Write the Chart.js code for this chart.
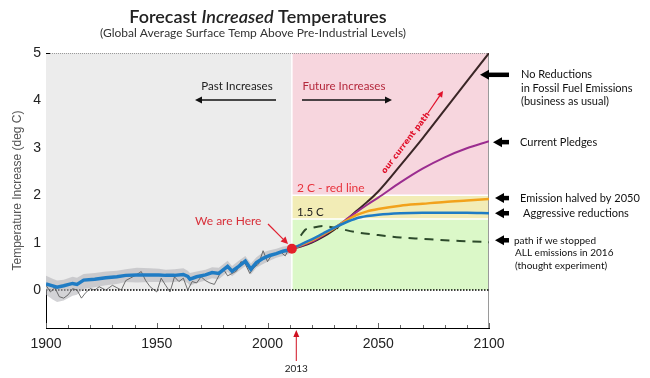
<!DOCTYPE html>
<html><head><meta charset="utf-8">
<script src="https://cdn.jsdelivr.net/npm/chart.js@4.4.0/dist/chart.umd.min.js"></script>
<style>html,body{margin:0;padding:0;background:#fff;}canvas{display:block;}</style>
</head><body>
<canvas id="c" width="650" height="378"></canvas>
<script>
// ---------- data ----------
const histYears = [1900,1903,1905,1908,1912,1914,1917,1922,1927,1932,1936,1941,1947,1951,1954,1958,1962,1964,1965,1968,1972,1975,1978,1982,1984,1987,1990,1992.5,1995,1998,2001,2004,2007,2009,2011];
const histSmooth = [0.13,0.09,0.06,0.09,0.14,0.12,0.21,0.23,0.26,0.28,0.31,0.32,0.32,0.32,0.31,0.31,0.33,0.29,0.23,0.28,0.32,0.37,0.35,0.50,0.40,0.50,0.61,0.44,0.58,0.67,0.73,0.77,0.82,0.84,0.87];
const histHigh = [0.30,0.24,0.20,0.22,0.28,0.26,0.34,0.36,0.39,0.41,0.44,0.47,0.46,0.45,0.43,0.44,0.46,0.41,0.36,0.39,0.43,0.48,0.47,0.62,0.51,0.62,0.72,0.56,0.69,0.80,0.84,0.87,0.92,0.93,0.95];
const histLow = [-0.10,-0.20,-0.25,-0.22,-0.12,-0.10,0.02,0.06,0.10,0.13,0.17,0.16,0.17,0.17,0.16,0.17,0.19,0.15,0.09,0.15,0.20,0.25,0.23,0.38,0.29,0.40,0.50,0.33,0.47,0.55,0.62,0.68,0.72,0.75,0.79];
const annualYears = [1900,1902,1904,1906,1908,1910,1912,1914,1916,1918,1920,1922,1924,1927,1930,1932,1934,1936,1938,1940,1943,1945,1947,1950,1952,1954,1956,1958,1960,1962,1964,1966,1968,1970,1972,1974,1976,1978,1980,1982,1984,1986,1988,1990,1992,1994,1996,1998,2000,2002,2004,2006,2008,2010];
const annualTemps = [0.10,-0.04,0.05,-0.14,-0.17,-0.10,0.03,0.00,-0.17,-0.05,0.03,0.00,0.07,0.00,0.10,0.05,0.00,0.20,0.25,0.30,0.39,0.20,0.07,-0.04,0.25,0.10,-0.04,0.28,0.18,0.25,0.00,0.18,0.15,0.28,0.20,0.15,0.12,0.30,0.45,0.30,0.35,0.40,0.60,0.55,0.35,0.48,0.55,0.83,0.60,0.75,0.78,0.80,0.72,0.90];

const futureYears = [2011,2015,2020,2025,2030,2035,2040,2045,2050,2060,2070,2080,2090,2100];
const noReductions = [0.87,0.92,1.00,1.12,1.27,1.45,1.66,1.86,2.08,2.63,3.20,3.80,4.40,5.00];
const currentPledges = [0.87,0.93,1.02,1.15,1.30,1.47,1.64,1.80,1.95,2.27,2.56,2.80,2.99,3.14];
const halvedBy2050 = [0.87,0.95,1.05,1.17,1.30,1.45,1.58,1.66,1.71,1.78,1.82,1.86,1.89,1.92];
const aggressive = [0.87,0.96,1.07,1.19,1.31,1.42,1.51,1.56,1.59,1.62,1.63,1.63,1.63,1.62];
const stoppedYears = [2015,2017,2020,2025,2030,2040,2050,2060,2070,2080,2090,2100];
const stoppedAll = [1.15,1.27,1.31,1.35,1.32,1.22,1.16,1.11,1.08,1.05,1.03,1.01];

const nowYear = 2011, nowTemp = 0.87;
const xLabelYears = [1900,1950,2000,2050,2100];
const xMinorYears = [1900,1910,1920,1930,1940,1950,1960,1970,1980,1990,2000,2010,2020,2030,2040,2050,2060,2070,2080,2090,2100];
const yTickVals = [0,1,2,3,4,5];
// zones: [x0, x1, y0, y1]
const zoneX0 = [1900, 2011, 2011, 2011];
const zoneX1 = [2011, 2100, 2100, 2100];
const zoneY0 = [0, 2, 1.5, 0];
const zoneY1 = [5, 5, 2, 1.5];
const zoneColors = ['#ececec', '#f7d6de', '#f2ecb6', '#dbf8c8'];
// right-hand labels: value the arrow points at
const rightArrowVals = [4.54, 3.12, 1.94, 1.62, 1.05];

const pts = (xs, ys) => xs.map((v, i) => ({x: v, y: ys[i]}));

function arrow(ctx, x1, y1, x2, y2, head, hw, lw, color) {
  const a = Math.atan2(y2 - y1, x2 - x1);
  ctx.strokeStyle = color; ctx.fillStyle = color; ctx.lineWidth = lw;
  const bx = x2 - head * Math.cos(a), by = y2 - head * Math.sin(a);
  ctx.beginPath(); ctx.moveTo(x1, y1); ctx.lineTo(bx, by); ctx.stroke();
  ctx.beginPath(); ctx.moveTo(x2, y2);
  ctx.lineTo(bx + hw * Math.sin(a), by - hw * Math.cos(a));
  ctx.lineTo(bx - hw * Math.sin(a), by + hw * Math.cos(a));
  ctx.closePath(); ctx.fill();
}
function txt(ctx, s, x, y, font, color, align) {
  ctx.font = font; ctx.fillStyle = color; ctx.textAlign = align || 'left'; ctx.textBaseline = 'middle';
  ctx.fillText(s, x, y);
}
function seg(ctx, x1, y1, x2, y2) { ctx.beginPath(); ctx.moveTo(x1, y1); ctx.lineTo(x2, y2); ctx.stroke(); }

const deco = {
  id: 'deco',
  beforeDatasetsDraw(chart) {
    const {ctx, scales: {x, y}} = chart;
    ctx.save();
    for (let i = 0; i < zoneX0.length; i++) {
      const l = x.getPixelForValue(zoneX0[i]), r = x.getPixelForValue(zoneX1[i]);
      const t = y.getPixelForValue(zoneY1[i]), b = y.getPixelForValue(zoneY0[i]);
      ctx.fillStyle = zoneColors[i]; ctx.fillRect(l, t, r - l, b - t);
    }
    ctx.strokeStyle = '#ffffff'; ctx.lineWidth = 1.5;
    const xs = x.getPixelForValue(nowYear);
    seg(ctx, xs, y.getPixelForValue(0), xs, y.getPixelForValue(5));
    seg(ctx, xs, y.getPixelForValue(2), x.right, y.getPixelForValue(2));
    seg(ctx, xs, y.getPixelForValue(1.5), x.right, y.getPixelForValue(1.5));
    ctx.lineWidth = 1; ctx.strokeStyle = '#9a9a9a';
    ctx.setLineDash([1, 1]); seg(ctx, x.left, y.top + 0.5, x.right, y.top + 0.5);
    ctx.setLineDash([]); seg(ctx, x.right - 0.5, y.top, x.right - 0.5, y.bottom);
    ctx.strokeStyle = '#666';
    for (const yr of xMinorYears) {
      const px = Math.round(x.getPixelForValue(yr)) + 0.5;
      const len = (yr % 50 === 0) ? 5 : 3;
      seg(ctx, px, y.bottom, px, y.bottom - len);
    }
    ctx.strokeStyle = '#000';
    seg(ctx, x.left, y.top + 0.5, x.left + 4, y.top + 0.5);
    ctx.restore();
  },
  afterDraw(chart) {
    const {ctx, scales: {x, y}} = chart;
    ctx.save();
    // title
    const f1 = '600 18px Lato', f2 = 'italic 600 18px Lato';
    ctx.font = f1; const w1 = ctx.measureText('Forecast ').width, w3 = ctx.measureText(' Temperatures').width;
    ctx.font = f2; const w2 = ctx.measureText('Increased').width;
    let tx = 258 - (w1 + w2 + w3) / 2;
    txt(ctx, 'Forecast ', tx, 17, f1, '#222'); tx += w1;
    txt(ctx, 'Increased', tx, 17, f2, '#222'); tx += w2;
    txt(ctx, ' Temperatures', tx, 17, f1, '#222');
    txt(ctx, '(Global Average Surface Temp Above Pre-Industrial Levels)', 253, 33, '12px Lato', '#333', 'center');
    // region captions
    txt(ctx, 'Past Increases', 237, 86, '11.5px Lato', '#222', 'center');
    arrow(ctx, 276, 100, 195, 100, 7, 3.5, 1.3, '#111');
    txt(ctx, 'Future Increases', 344, 86, '11.5px Lato', '#b4283c', 'center');
    arrow(ctx, 302, 100, 392, 100, 7, 3.5, 1.3, '#111');
    txt(ctx, '2 C - red line', 297, 188, '12px Lato', '#e8323c');
    txt(ctx, '1.5 C', 297, 212, '11.5px Lato', '#222');
    txt(ctx, 'We are Here', 195, 221, '12px Lato', '#d8303a');
    arrow(ctx, 268, 224, 288, 244, 7, 3.5, 1.2, '#e02030');
    // our current path
    ctx.save(); ctx.translate(406, 143); ctx.rotate(-0.92);
    txt(ctx, 'our current path', 0, 0, 'bold 8px "DejaVu Sans"', '#e0102a', 'center');
    ctx.restore();
    arrow(ctx, 428, 113, 443, 91, 6, 3, 1.2, '#e0102a');
    // right arrows and labels
    const tipX = [x.right - 9, x.right + 4, x.right + 6, x.right + 6, x.right + 6];
    for (let i = 0; i < rightArrowVals.length; i++) {
      const py = y.getPixelForValue(rightArrowVals[i]);
      arrow(ctx, x.right + 20, py, tipX[i], py, 9, 5, 4.5, '#000');
    }
    const rf = '11px Lato';
    txt(ctx, 'No Reductions', 521, 74, rf, '#111');
    txt(ctx, 'in Fossil Fuel Emissions', 521, 88, rf, '#111');
    txt(ctx, '(business as usual)', 521, 101, rf, '#111');
    txt(ctx, 'Current Pledges', 520, 142, rf, '#111');
    txt(ctx, 'Emission halved by 2050', 520, 198, rf, '#111');
    txt(ctx, 'Aggressive reductions', 523, 213, rf, '#111');
    const sf = '10px Lato';
    txt(ctx, 'path if we stopped', 514, 241, sf, '#111');
    txt(ctx, 'ALL emissions in 2016', 515, 253, sf, '#111');
    txt(ctx, '(thought experiment)', 515, 266, sf, '#111');
    // 2013 marker
    const x13 = x.getPixelForValue(2013);
    arrow(ctx, x13, 361, x13, 330, 7, 3, 1, '#d01020');
    txt(ctx, '2013', x13, 369, '10px Lato', '#222', 'center');
    ctx.restore();
  }
};

const ds = [
  {data: [{x: nowYear, y: nowTemp}], showLine: false, pointRadius: 5, pointBackgroundColor: '#e3202a', pointBorderWidth: 0, order: 0},
  {data: pts(histYears, histSmooth), borderColor: '#1f7cc4', borderWidth: 3.5, tension: 0, order: 1},
  {data: pts(futureYears, aggressive), borderColor: '#1f7cc4', borderWidth: 2.5, cubicInterpolationMode: 'monotone', order: 2},
  {data: pts(futureYears, halvedBy2050), borderColor: '#f2a21c', borderWidth: 2.5, cubicInterpolationMode: 'monotone', order: 3},
  {data: pts(futureYears, currentPledges), borderColor: '#9b2d8f', borderWidth: 2, cubicInterpolationMode: 'monotone', order: 4},
  {data: pts(futureYears, noReductions), borderColor: '#3a2626', borderWidth: 2, cubicInterpolationMode: 'monotone', order: 5},
  {data: pts(stoppedYears, stoppedAll), borderColor: '#2d4a2b', borderWidth: 2, borderDash: [9, 7], cubicInterpolationMode: 'monotone', order: 6},
  {data: pts(annualYears, annualTemps), borderColor: 'rgba(70,70,70,0.75)', borderWidth: 1, tension: 0, order: 7},
  {data: pts(histYears, histHigh), borderColor: 'rgba(0,0,0,0)', borderWidth: 0, fill: false, order: 9},
  {data: pts(histYears, histLow), borderColor: 'rgba(0,0,0,0)', borderWidth: 0, fill: '-1', backgroundColor: 'rgba(175,175,180,0.55)', order: 8},
  {data: [{x: 1900, y: 0}, {x: 2100, y: 0}], borderColor: '#000', borderWidth: 1.5, borderDash: [1.5, 1.5], order: 10}
];
ds.forEach(d => { if (d.pointRadius === undefined) d.pointRadius = 0; });

new Chart(document.getElementById('c'), {
  type: 'line',
  data: {datasets: ds},
  options: {
    responsive: false, devicePixelRatio: 1, animation: false,
    layout: {padding: {top: 53, right: 161, left: 0, bottom: 0}},
    plugins: {legend: {display: false}, tooltip: {enabled: false}},
    scales: {
      x: {
        type: 'linear', min: 1900, max: 2100,
        afterFit: s => { s.height = 50; },
        afterBuildTicks: s => { s.ticks = xLabelYears.map(v => ({value: v})); },
        ticks: {padding: 8, color: '#222', font: {family: 'Liberation Sans', size: 14}, callback: v => String(v), maxRotation: 0, autoSkip: false},
        grid: {display: true, drawOnChartArea: false, drawTicks: false},
        border: {display: true, color: '#000', width: 1}
      },
      y: {
        type: 'linear', min: -0.8, max: 5,
        afterFit: s => { s.width = 46; },
        afterBuildTicks: s => { s.ticks = yTickVals.map(v => ({value: v})); },
        ticks: {padding: 5, color: '#222', font: {family: 'Liberation Sans', size: 14}, callback: v => String(v)},
        grid: {display: true, drawOnChartArea: false, drawTicks: false},
        border: {display: true, color: '#000', width: 1},
        title: {display: true, text: 'Temperature Increase (deg C)', color: '#555', font: {family: 'Liberation Sans', size: 12}, padding: {top: 10, bottom: 0}}
      }
    }
  },
  plugins: [deco]
});
</script>
</body></html>
